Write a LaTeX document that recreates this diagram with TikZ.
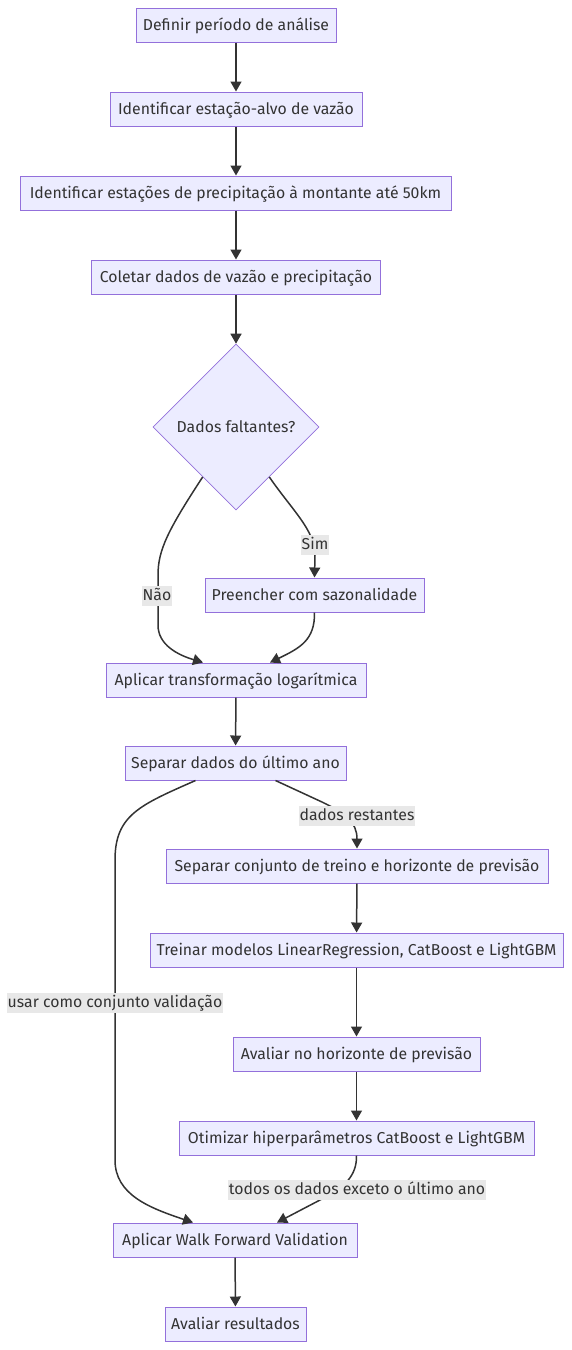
\documentclass[tikz,border=0pt]{standalone}
\usepackage{fontspec}
\setmainfont{Fira Sans}
\usetikzlibrary{shapes.geometric,arrows.meta,calc}
\definecolor{boxfill}{HTML}{ECECFF}
\definecolor{boxdraw}{HTML}{9370DB}
\definecolor{linec}{HTML}{333333}
\definecolor{lblbg}{HTML}{E8E8E8}
\tikzset{
  x=1pt,y=-1pt,
  box/.style={draw=boxdraw,fill=boxfill,line width=1pt,minimum height=34pt,inner sep=0pt,text=linec,text height=10pt,text depth=0pt,font=\fontsize{15.8}{18}\selectfont},
  dec/.style={diamond,draw=boxdraw,fill=boxfill,line width=0.6pt,minimum width=166pt,minimum height=166pt,inner sep=0pt,aspect=1,text=linec,text height=10pt,text depth=0pt,font=\fontsize{15.8}{18}\selectfont},
  edge/.style={draw=linec,line width=1.5pt,-{Triangle[length=10pt,width=11pt]}},
  lbl/.style={fill=lblbg,inner xsep=1pt,inner ysep=3pt,text=linec,text height=11pt,text depth=3pt,font=\fontsize{15.8}{18}\selectfont},
}
\begin{document}
\begin{tikzpicture}
\useasboundingbox (0,0) rectangle (572,1350);
\node[box,minimum width=200pt] (n1) at (236,25) {Definir período de análise};
\node[box,minimum width=252pt] (n2) at (236,109) {Identificar estação-alvo de vazão};
\node[box,minimum width=431pt] (n3) at (235.5,193) {Identificar estações de precipitação à montante até 50km};
\node[box,minimum width=289pt] (n4) at (236,277) {Coletar dados de vazão e precipitação};
\node[dec] (d) at (236,427) {Dados faltantes?};
\node[box,minimum width=219pt] (n6) at (314.5,595) {Preencher com sazonalidade};
\node[box,minimum width=260pt] (n7) at (236,680) {Aplicar transformação logarítmica};
\node[box,minimum width=221pt] (n8) at (235.5,763) {Separar dados do último ano};
\node[box,minimum width=382pt] (n9) at (357,866) {Separar conjunto de treino e horizonte de previsão};
\node[box,minimum width=413pt] (n10) at (356.5,950) {Treinar modelos LinearRegression, CatBoost e LightGBM};
\node[box,minimum width=247pt] (n11) at (356.5,1054) {Avaliar no horizonte de previsão};
\node[box,minimum width=355pt] (n12) at (356.5,1138) {Otimizar hiperparâmetros CatBoost e LightGBM};
\node[box,minimum width=244pt] (n13) at (235,1240) {Aplicar Walk Forward Validation};
\node[box,minimum width=141pt] (n14) at (235.5,1324) {Avaliar resultados};

\draw[edge] (n1) -- (n2);
\draw[edge] (n2) -- (n3.north -| n2);
\draw[edge] (n3.south -| n4) -- (n4);
\draw[edge] (n4) -- (d.north);
% Nao
\draw[edge] ($(d.west)!0.6!(d.south)$) .. controls (168,530) and (158,550) .. (158,575) -- (158,625) .. controls (158,645) and (178,655) .. ([xshift=-33pt]n7.north);
\node[lbl] (lnao) at (157,596) {Não};
% Sim
\draw[edge] ($(d.east)!0.6!(d.south)$) .. controls (292,510) and (315,530) .. (315,555) -- (n6.north);
\node[lbl] (lsim) at (315,545) {Sim};
\draw[edge] (n6.south) .. controls (315,640) and (300,648) .. ([xshift=34pt]n7.north);
\draw[edge] (n7) -- (n8);
% dados restantes
\draw[edge] ([xshift=40pt]n8.south) -- (322,802) .. controls (345,813) and (357,822) .. (n9.north);
\node[lbl] (lrest) at (357,816) {dados restantes};
% validacao
\draw[edge] ([xshift=-40pt]n8.south) .. controls (140,805) and (115,815) .. (115,860) -- (115,1160) .. controls (115,1195) and (150,1208) .. ([xshift=-42pt]n13.north);
\node[lbl] (lval) at (115,1003) {usar como conjunto validação};
\draw[edge] (n9) -- (n10);
\draw[edge] (n10) -- (n11);
\draw[edge] (n11) -- (n12);
% todos
\draw[edge] (n12.south) .. controls (357,1175) and (345,1188) .. (320,1200) -- ([xshift=42pt]n13.north);
\node[lbl] (ltodos) at (357,1190) {todos os dados exceto o último ano};
\draw[edge] (n13) -- (n14);
\end{tikzpicture}
\end{document}
